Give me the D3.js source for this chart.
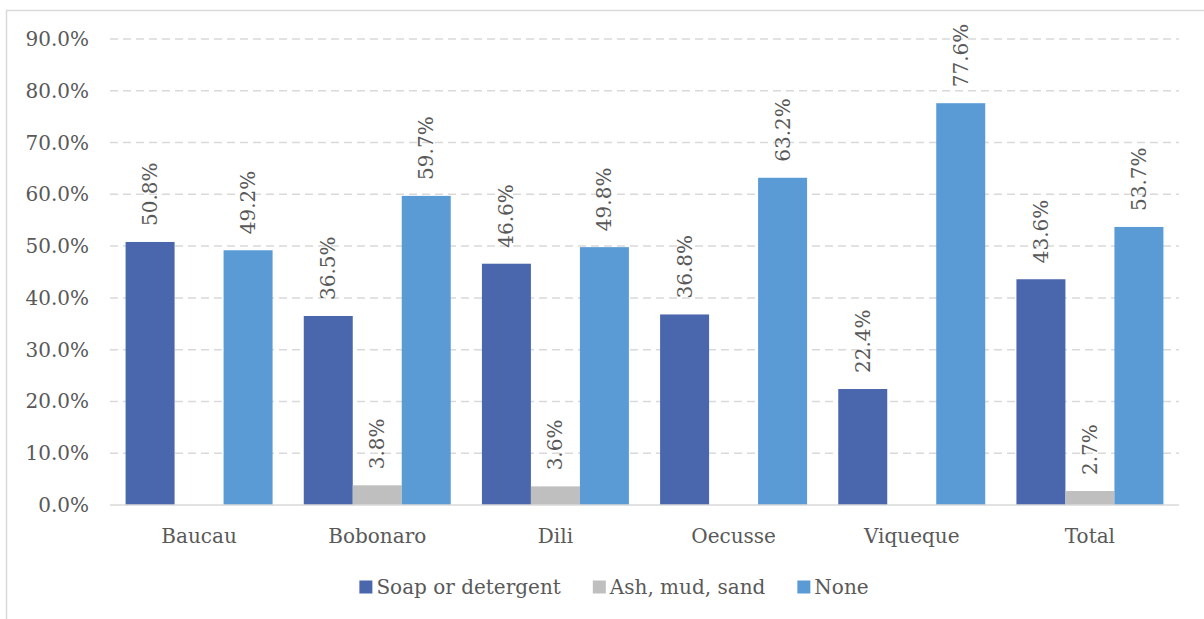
<!DOCTYPE html>
<html>
<head>
<meta charset="utf-8">
<script src="https://cdn.jsdelivr.net/npm/d3@7"></script>
<style>
  html, body { margin: 0; padding: 0; background: #fff; }
  svg { display: block; }
</style>
</head>
<body>
<svg id="chart" width="1204" height="619"></svg>
<script>
const categories = ["Baucau", "Bobonaro", "Dili", "Oecusse", "Viqueque", "Total"];
const seriesNames = ["Soap or detergent", "Ash, mud, sand", "None"];
const soap = [50.8, 36.5, 46.6, 36.8, 22.4, 43.6];
const ash = [null, 3.8, 3.6, null, null, 2.7];
const none = [49.2, 59.7, 49.8, 63.2, 77.6, 53.7];
const yTicks = [0, 10, 20, 30, 40, 50, 60, 70, 80, 90];
const colors = ["#4a66ac", "#bfbfbf", "#5b9bd5"];

const seriesValues = [soap, ash, none];
const FONT = "'DejaVu Serif', serif";
const TXT = "#595959";

const svg = d3.select("#chart");

// outer border
svg.append("rect")
  .attr("x", 6.5).attr("y", 10.5)
  .attr("width", 1220).attr("height", 640)
  .attr("fill", "none").attr("stroke", "#d9d9d9").attr("stroke-width", 1.5);

const plotLeft = 110, plotRight = 1179, plotTop = 39, plotBottom = 505;

const y = d3.scaleLinear().domain([0, 90]).range([plotBottom, plotTop]);
const x0 = d3.scaleBand().domain(categories).range([plotLeft, plotRight])
  .paddingInner(0.175).paddingOuter(0.0875);
const x1 = d3.scaleBand().domain(seriesNames).range([0, x0.bandwidth()]);

// gridlines
svg.append("g").selectAll("line")
  .data(yTicks.filter(d => d > 0))
  .join("line")
  .attr("x1", plotLeft).attr("x2", plotRight)
  .attr("y1", d => y(d)).attr("y2", d => y(d))
  .attr("stroke", "#d9d9d9").attr("stroke-width", 1.5)
  .attr("stroke-dasharray", "8,5");

// y tick labels
svg.append("g").selectAll("text")
  .data(yTicks)
  .join("text")
  .attr("x", 89).attr("y", d => y(d))
  .attr("text-anchor", "end").attr("dominant-baseline", "central")
  .attr("font-family", FONT).attr("font-size", 20).attr("fill", TXT)
  .text(d => d.toFixed(1) + "%");

// bars
const groups = svg.append("g").selectAll("g")
  .data(categories)
  .join("g")
  .attr("transform", d => `translate(${x0(d)},0)`);

const cells = groups.selectAll("g")
  .data((c, i) => seriesNames.map((s, j) => ({ s, j, v: seriesValues[j][i] })).filter(d => d.v != null))
  .join("g");

cells.append("rect")
  .attr("x", d => x1(d.s))
  .attr("y", d => y(d.v))
  .attr("width", x1.bandwidth())
  .attr("height", d => y(0) - y(d.v))
  .attr("fill", d => colors[d.j]);

cells.append("text")
  .attr("transform", d => `translate(${x1(d.s) + x1.bandwidth() / 2},${y(d.v) - 16}) rotate(-90)`)
  .attr("text-anchor", "start").attr("dominant-baseline", "central")
  .attr("font-family", FONT).attr("font-size", 20).attr("fill", TXT)
  .text(d => d.v.toFixed(1) + "%");

// baseline
svg.append("line")
  .attr("x1", plotLeft).attr("x2", plotRight)
  .attr("y1", y(0)).attr("y2", y(0))
  .attr("stroke", "#d9d9d9").attr("stroke-width", 1.5);

// category labels
svg.append("g").selectAll("text")
  .data(categories)
  .join("text")
  .attr("x", d => x0(d) + x0.bandwidth() / 2)
  .attr("y", 543)
  .attr("text-anchor", "middle")
  .attr("font-family", FONT).attr("font-size", 20).attr("fill", TXT)
  .text(d => d);

// legend
const legend = svg.append("g");
let cx = 0;
seriesNames.forEach((s, j) => {
  const g = legend.append("g").attr("transform", `translate(${cx},0)`);
  g.append("rect").attr("x", 0).attr("y", -6.5).attr("width", 13).attr("height", 13).attr("fill", colors[j]);
  const t = g.append("text").attr("x", 17).attr("y", 0)
    .attr("dominant-baseline", "central")
    .attr("font-family", FONT).attr("font-size", 20).attr("fill", TXT)
    .text(s);
  const w = t.node().getComputedTextLength();
  cx += 17 + w + 32;
});
const totalW = cx - 32;
legend.attr("transform", `translate(${614 - totalW / 2},587)`);
</script>
</body>
</html>
